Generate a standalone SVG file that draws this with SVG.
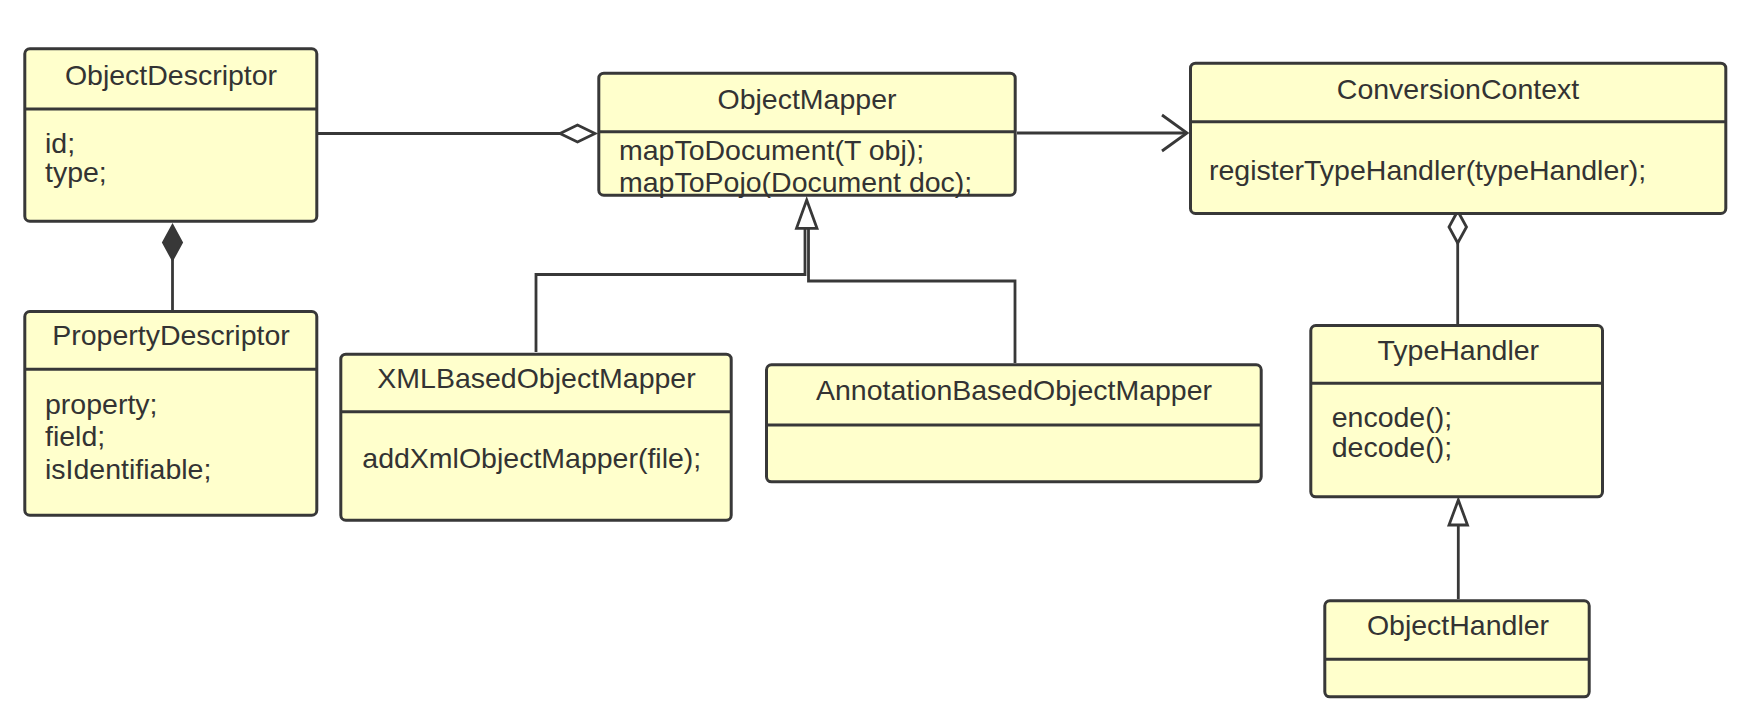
<svg xmlns="http://www.w3.org/2000/svg" width="1742" height="718" viewBox="0 0 1742 718">
<style>
.box{fill:#FFFFCC;stroke:#383838;stroke-width:3}
.div{stroke:#383838;stroke-width:3}
.t{font-family:"Liberation Sans",Arial,sans-serif;font-size:28.5px;fill:#333333}
.c{text-anchor:middle}
.ln{fill:none;stroke:#383838;stroke-width:2.8}
.open{fill:#FFFFFF;stroke:#383838;stroke-width:2.8;stroke-linejoin:miter}
.solid{fill:#383838;stroke:#383838;stroke-width:2}
</style>
<rect width="1742" height="718" fill="#FFFFFF"/>
<g id="connectors">
  <!-- ObjectDescriptor aggregation to ObjectMapper -->
  <line class="ln" x1="318" y1="133.5" x2="560" y2="133.5"/>
  <polygon class="open" points="595,133.5 577.5,125 560,133.5 577.5,142"/>
  <!-- composition ObjectDescriptor - PropertyDescriptor -->
  <line class="ln" x1="172.5" y1="258" x2="172.5" y2="310"/>
  <polygon class="solid" points="172.5,225 182,242.5 172.5,260 163,242.5"/>
  <!-- ObjectMapper to ConversionContext -->
  <line class="ln" x1="1017" y1="133" x2="1187" y2="133"/>
  <polyline class="ln" points="1162,115 1187,133 1162,151"/>
  <!-- generalization to ObjectMapper -->
  <polyline class="ln" points="536,352 536,274.5 805,274.5 805,228"/>
  <polyline class="ln" points="1015,363 1015,281 808.5,281 808.5,228"/>
  <polygon class="open" points="806.7,200 817,228.3 796.5,228.3"/>
  <!-- aggregation ConversionContext - TypeHandler -->
  <line class="ln" x1="1457.7" y1="242" x2="1457.7" y2="324"/>
  <polygon class="open" points="1457.7,211 1466.5,227 1457.7,243 1449,227"/>
  <!-- generalization ObjectHandler to TypeHandler -->
  <line class="ln" x1="1458.3" y1="524" x2="1458.3" y2="599"/>
  <polygon class="open" points="1458.3,500 1467.5,525 1449,525"/>
</g>
<g id="ObjectDescriptor">
  <rect class="box" x="24.8" y="48.8" width="292" height="172.4" rx="5"/>
  <line class="div" x1="24.8" y1="109" x2="316.8" y2="109"/>
  <text class="t c" x="171" y="85">ObjectDescriptor</text>
  <text class="t" x="45" y="152.5">id;</text>
  <text class="t" x="45" y="182">type;</text>
</g>
<g id="PropertyDescriptor">
  <rect class="box" x="24.8" y="311.5" width="292" height="203.7" rx="5"/>
  <line class="div" x1="24.8" y1="369.3" x2="316.8" y2="369.3"/>
  <text class="t c" x="171" y="345">PropertyDescriptor</text>
  <text class="t" x="45" y="413.5">property;</text>
  <text class="t" x="45" y="446">field;</text>
  <text class="t" x="45" y="478.5">isIdentifiable;</text>
</g>
<g id="ObjectMapper">
  <rect class="box" x="598.8" y="73.2" width="416.4" height="122" rx="5"/>
  <line class="div" x1="598.8" y1="131.7" x2="1015.2" y2="131.7"/>
  <text class="t c" x="807" y="109.3">ObjectMapper</text>
  <text class="t" x="619" y="160">mapToDocument(T obj);</text>
  <text class="t" x="619" y="191.7">mapToPojo(Document doc);</text>
</g>
<g id="ConversionContext">
  <rect class="box" x="1190.5" y="63.2" width="535.3" height="150.3" rx="5"/>
  <line class="div" x1="1190.5" y1="121.7" x2="1725.8" y2="121.7"/>
  <text class="t c" x="1458" y="99">ConversionContext</text>
  <text class="t" x="1209" y="180">registerTypeHandler(typeHandler);</text>
</g>
<g id="XMLBasedObjectMapper">
  <rect class="box" x="340.8" y="354.2" width="390.4" height="166" rx="5"/>
  <line class="div" x1="340.8" y1="411.7" x2="731.2" y2="411.7"/>
  <text class="t c" x="536.5" y="388.3">XMLBasedObjectMapper</text>
  <text class="t" x="362.3" y="468.3">addXmlObjectMapper(file);</text>
</g>
<g id="AnnotationBasedObjectMapper">
  <rect class="box" x="766.5" y="364.8" width="494.7" height="117" rx="5"/>
  <line class="div" x1="766.5" y1="425" x2="1261.2" y2="425"/>
  <text class="t c" x="1014" y="400">AnnotationBasedObjectMapper</text>
</g>
<g id="TypeHandler">
  <rect class="box" x="1310.8" y="325.5" width="291.7" height="171.3" rx="5"/>
  <line class="div" x1="1310.8" y1="383.3" x2="1602.5" y2="383.3"/>
  <text class="t c" x="1458.3" y="360">TypeHandler</text>
  <text class="t" x="1331.7" y="426.7">encode();</text>
  <text class="t" x="1331.7" y="456.7">decode();</text>
</g>
<g id="ObjectHandler">
  <rect class="box" x="1324.8" y="600.8" width="264.4" height="96" rx="5"/>
  <line class="div" x1="1324.8" y1="659.3" x2="1589.2" y2="659.3"/>
  <text class="t c" x="1458" y="635">ObjectHandler</text>
</g>
</svg>
